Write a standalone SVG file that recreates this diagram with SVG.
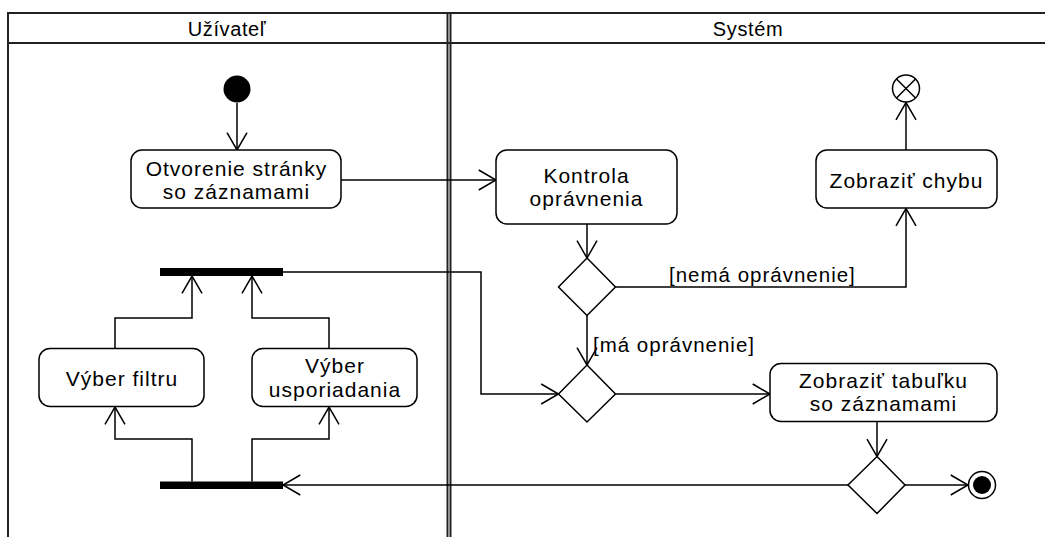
<svg xmlns="http://www.w3.org/2000/svg" width="1045" height="537" viewBox="0 0 1045 537">
  <style>
    .lane { fill: none; stroke: #222; stroke-width: 2; }
    .act { fill: #fff; stroke: #000; stroke-width: 1.5; }
    .dec { fill: #fff; stroke: #000; stroke-width: 1.5; }
    .bar { fill: #000; }
    .edge { fill: none; stroke: #000; stroke-width: 1.5; }
    text { font-family: "Liberation Sans", Arial, sans-serif; font-size: 21px; letter-spacing: 1px; fill: #000; text-anchor: middle; }
    text.lbl { text-anchor: start; font-size: 20.5px; }
    text.head { font-size: 20px; letter-spacing: 0.6px; }
  </style>
  <defs>
    <marker id="open" markerUnits="userSpaceOnUse" markerWidth="24" markerHeight="24" viewBox="-20 -12 22 24" refX="0" refY="0" orient="auto">
      <path d="M -17.3 -10 L 0 0 L -17.3 10" fill="none" stroke="#000" stroke-width="1.5"/>
    </marker>
  </defs>
  <rect width="1045" height="537" fill="#fff"/>

  <!-- swimlanes -->
  <g id="lanes">
    <path class="lane" d="M 8 560 V 13 H 1050 M 8 43 H 1050"/>
    <path class="lane" d="M 447.5 13 V 560 M 450.5 13 V 560" stroke-width="1.5"/>
    <text class="head" x="227" y="36">Užívateľ</text>
    <text class="head" x="748" y="36">Systém</text>
  </g>

  <!-- connectors -->
  <g id="connectors">
    <path class="edge" d="M 237 103 V 150" marker-end="url(#open)"/>
    <path class="edge" d="M 341 180 H 496" marker-end="url(#open)"/>
    <path class="edge" d="M 587 224 V 258" marker-end="url(#open)"/>
    <path class="edge" d="M 615.5 287 H 906 V 208.5" marker-end="url(#open)"/>
    <path class="edge" d="M 906 150 V 102.5" marker-end="url(#open)"/>
    <path class="edge" d="M 587 315.5 V 365" marker-end="url(#open)"/>
    <path class="edge" d="M 283 272 H 481 V 394 H 558.5" marker-end="url(#open)"/>
    <path class="edge" d="M 615.5 394 H 770" marker-end="url(#open)"/>
    <path class="edge" d="M 877 421.5 V 456.5" marker-end="url(#open)"/>
    <path class="edge" d="M 905 485 H 968" marker-end="url(#open)"/>
    <path class="edge" d="M 848 485 H 283" marker-end="url(#open)"/>
    <path class="edge" d="M 192 481.5 V 439 H 115 V 407" marker-end="url(#open)"/>
    <path class="edge" d="M 252 481.5 V 439 H 329 V 407" marker-end="url(#open)"/>
    <path class="edge" d="M 115 348 V 318 H 192 V 276" marker-end="url(#open)"/>
    <path class="edge" d="M 329 348 V 318 H 252 V 276" marker-end="url(#open)"/>
    <text class="lbl" x="669" y="282">[nemá oprávnenie]</text>
    <text class="lbl" x="593" y="352">[má oprávnenie]</text>
  </g>

  <g id="start">
    <circle cx="237" cy="89" r="13.5" fill="#000"/>
  </g>

  <g id="open-page">
    <rect class="act" x="131" y="150" width="210" height="58" rx="11"/>
    <text x="236.5" y="176">Otvorenie stránky</text>
    <text x="236.5" y="199">so záznamami</text>
  </g>

  <g id="check-rights">
    <rect class="act" x="496" y="150" width="181" height="74" rx="11"/>
    <text x="586.5" y="183">Kontrola</text>
    <text x="586.5" y="206">oprávnenia</text>
  </g>

  <g id="show-error">
    <rect class="act" x="816" y="150" width="181" height="58" rx="11"/>
    <text x="906.5" y="188">Zobraziť chybu</text>
  </g>

  <g id="flow-final">
    <circle cx="906" cy="88.5" r="13.5" fill="#fff" stroke="#000" stroke-width="1.5"/>
    <path d="M 896.5 79 L 915.5 98 M 915.5 79 L 896.5 98" stroke="#000" stroke-width="1.5"/>
  </g>

  <g id="decision-rights">
    <path class="dec" d="M 587 258 L 615.5 287 L 587 315.5 L 558.5 287 Z"/>
  </g>

  <g id="merge">
    <path class="dec" d="M 587 365 L 615.5 394 L 587 422 L 558.5 394 Z"/>
  </g>

  <g id="show-table">
    <rect class="act" x="770" y="363.5" width="227" height="58" rx="11"/>
    <text x="883.5" y="388">Zobraziť tabuľku</text>
    <text x="883.5" y="411">so záznamami</text>
  </g>

  <g id="decision-end">
    <path class="dec" d="M 877 456.5 L 905 485 L 877 513.5 L 848 485 Z"/>
  </g>

  <g id="end">
    <circle cx="982" cy="485" r="13.5" fill="#fff" stroke="#000" stroke-width="1.5"/>
    <circle cx="982" cy="485" r="9" fill="#000"/>
  </g>

  <g id="join-bar">
    <rect class="bar" x="160" y="268" width="123" height="8"/>
  </g>

  <g id="fork-bar">
    <rect class="bar" x="160" y="481.5" width="123" height="7.5"/>
  </g>

  <g id="select-filter">
    <rect class="act" x="39" y="348.5" width="165" height="58" rx="11"/>
    <text x="122" y="386">Výber filtru</text>
  </g>

  <g id="select-sort">
    <rect class="act" x="252" y="348.5" width="165" height="58" rx="11"/>
    <text x="335" y="373">Výber</text>
    <text x="335" y="397">usporiadania</text>
  </g>
</svg>
